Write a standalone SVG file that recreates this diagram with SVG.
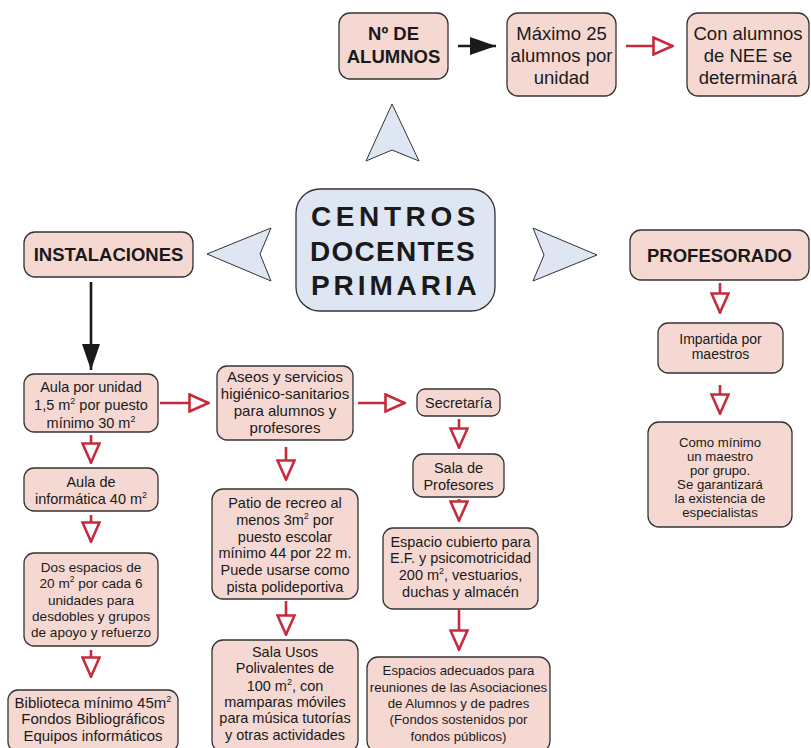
<svg xmlns="http://www.w3.org/2000/svg" width="811" height="748" viewBox="0 0 811 748">
<style>
  .node rect { fill: #f5d8d2; stroke: #333; stroke-width: 1.3; }
  .center rect { fill: #dfe6f3; stroke: #333; stroke-width: 1.3; }
  text { font-family: "Liberation Sans", Arial, sans-serif; fill: #1a1a1a; text-anchor: middle; }
  .h { font-size: 18.5px; font-weight: bold; }
  .big { font-size: 28px; font-weight: bold; text-anchor: start; }
  .t18 { font-size: 18.5px; }
  .t15 { font-size: 15px; }
  .t145 { font-size: 14.5px; }
  .t14 { font-size: 14px; }
  .t135 { font-size: 13.6px; }
  .t13 { font-size: 13.2px; }
  .sup { font-size: 0.62em; }
  .red { stroke: #c72b3b; stroke-width: 2.6; fill: none; marker-end: url(#hollow); }
  .blk { stroke: #1a1a1a; stroke-width: 2.6; fill: none; marker-end: url(#solid); }
  .star { fill: #dfe6f3; stroke: #333; stroke-width: 1; }
</style>
<defs>
  <marker id="hollow" markerUnits="userSpaceOnUse" viewBox="0 0 22 20" refX="21" refY="10" markerWidth="22" markerHeight="20" orient="auto">
    <path d="M1.5,1.5 L20.5,10 L1.5,18.5 Z" fill="#fff" stroke="#c72b3b" stroke-width="2.6" stroke-linejoin="miter"/>
  </marker>
  <marker id="solid" markerUnits="userSpaceOnUse" viewBox="0 0 26 20" refX="26" refY="10" markerWidth="26" markerHeight="20" orient="auto">
    <path d="M0,1 L26,10 L0,19 Z" fill="#1a1a1a"/>
  </marker>
</defs>
<rect width="811" height="748" fill="#fff"/>

<g id="connectors">
  <polygon class="star" points="392,104 419,161 392,150 366,161"/>
  <polygon class="star" points="207,254 271,228 260,254 271,281"/>
  <polygon class="star" points="597,255 533,228 544,255 533,281"/>
  <line class="blk" x1="458" y1="46" x2="496" y2="46"/>
  <line class="red" x1="626" y1="46" x2="673" y2="46"/>
  <line class="blk" x1="91" y1="282" x2="91" y2="370"/>
  <line class="red" x1="160" y1="403" x2="209" y2="403"/>
  <line class="red" x1="358" y1="403" x2="405" y2="403"/>
  <line class="red" x1="91" y1="435" x2="91" y2="463"/>
  <line class="red" x1="91" y1="515" x2="91" y2="542"/>
  <line class="red" x1="91" y1="650" x2="91" y2="677"/>
  <line class="red" x1="286" y1="447" x2="286" y2="480"/>
  <line class="red" x1="286" y1="601" x2="286" y2="635"/>
  <line class="red" x1="459" y1="419" x2="459" y2="448"/>
  <line class="red" x1="459" y1="499" x2="459" y2="521"/>
  <line class="red" x1="459" y1="610" x2="459" y2="650"/>
  <line class="red" x1="720" y1="283" x2="720" y2="313"/>
  <line class="red" x1="720" y1="385" x2="720" y2="414"/>
</g>

<g id="n-alumnos" class="node">
  <rect x="339" y="13" width="109" height="66" rx="11"/>
  <text class="h" x="393.5" y="40">Nº DE</text>
  <text class="h" x="393.5" y="63">ALUMNOS</text>
</g>
<g id="n-maximo" class="node">
  <rect x="507" y="13" width="109" height="83" rx="11"/>
  <text class="t18" x="561.5" y="40">Máximo 25</text>
  <text class="t18" x="561.5" y="62">alumnos por</text>
  <text class="t18" x="561.5" y="84">unidad</text>
</g>
<g id="n-nee" class="node">
  <rect x="687" y="13" width="122" height="83" rx="11"/>
  <text class="t18" x="748" y="40">Con alumnos</text>
  <text class="t18" x="748" y="62">de NEE se</text>
  <text class="t18" x="748" y="84">determinará</text>
</g>

<g id="n-centro" class="center">
  <rect x="296" y="189" width="199" height="122" rx="24"/>
  <text class="big" x="311" y="226" letter-spacing="4.6">CENTROS</text>
  <text class="big" x="310" y="261" letter-spacing="1.3">DOCENTES</text>
  <text class="big" x="311" y="295" letter-spacing="3.9">PRIMARIA</text>
</g>

<g id="n-instalaciones" class="node">
  <rect x="24" y="232" width="169" height="45" rx="11"/>
  <text class="h" x="108.5" y="261">INSTALACIONES</text>
</g>
<g id="n-profesorado" class="node">
  <rect x="630" y="230" width="179" height="50" rx="11"/>
  <text class="h" x="719.5" y="262">PROFESORADO</text>
</g>

<g id="n-aula" class="node">
  <rect x="24" y="374" width="134" height="58" rx="10"/>
  <text class="t145" x="91" y="392">Aula por unidad</text>
  <text class="t145" x="91" y="410">1,5 m<tspan class="sup" dy="-6">2</tspan><tspan dy="6"> por puesto</tspan></text>
  <text class="t145" x="91" y="428">mínimo 30 m<tspan class="sup" dy="-6">2</tspan></text>
</g>
<g id="n-informatica" class="node">
  <rect x="24" y="468" width="134" height="43" rx="10"/>
  <text class="t145" x="91" y="487">Aula de</text>
  <text class="t145" x="91" y="504">informática 40 m<tspan class="sup" dy="-6">2</tspan></text>
</g>
<g id="n-dos" class="node">
  <rect x="24" y="553" width="134" height="93" rx="10"/>
  <text class="t135" x="91" y="572">Dos espacios de</text>
  <text class="t135" x="91" y="588">20 m<tspan class="sup" dy="-6">2</tspan><tspan dy="6"> por cada 6</tspan></text>
  <text class="t135" x="91" y="605">unidades para</text>
  <text class="t135" x="91" y="621">desdobles y grupos</text>
  <text class="t135" x="91" y="637">de apoyo y refuerzo</text>
</g>
<g id="n-biblioteca" class="node">
  <rect x="8" y="690" width="170" height="62" rx="10"/>
  <text class="t15" x="93" y="708">Biblioteca mínimo 45m<tspan class="sup" dy="-6">2</tspan></text>
  <text class="t15" x="93" y="724">Fondos Bibliográficos</text>
  <text class="t15" x="93" y="741">Equipos informáticos</text>
</g>

<g id="n-aseos" class="node">
  <rect x="217" y="366" width="136" height="74" rx="10"/>
  <text class="t15" x="285" y="382">Aseos y servicios</text>
  <text class="t15" x="285" y="399">higiénico-sanitarios</text>
  <text class="t15" x="285" y="416">para alumnos y</text>
  <text class="t15" x="285" y="433">profesores</text>
</g>
<g id="n-patio" class="node">
  <rect x="212" y="489" width="146" height="110" rx="11"/>
  <text class="t145" x="285" y="508">Patio de recreo al</text>
  <text class="t145" x="285" y="525">menos 3m<tspan class="sup" dy="-6">2</tspan><tspan dy="6"> por</tspan></text>
  <text class="t145" x="285" y="542">puesto escolar</text>
  <text class="t145" x="285" y="558">mínimo 44 por 22 m.</text>
  <text class="t145" x="285" y="575">Puede usarse como</text>
  <text class="t145" x="285" y="592">pista polideportiva</text>
</g>
<g id="n-sala-usos" class="node">
  <rect x="212" y="640" width="146" height="112" rx="11"/>
  <text class="t145" x="285" y="657">Sala Usos</text>
  <text class="t145" x="285" y="673">Polivalentes de</text>
  <text class="t145" x="285" y="691">100 m<tspan class="sup" dy="-6">2</tspan><tspan dy="6">, con</tspan></text>
  <text class="t145" x="285" y="707">mamparas móviles</text>
  <text class="t145" x="285" y="723">para música tutorías</text>
  <text class="t145" x="285" y="740">y otras actividades</text>
</g>

<g id="n-secretaria" class="node">
  <rect x="417" y="389" width="83" height="27" rx="8"/>
  <text class="t145" x="458.5" y="408">Secretaría</text>
</g>
<g id="n-sala-prof" class="node">
  <rect x="413" y="454" width="91" height="43" rx="10"/>
  <text class="t145" x="458.5" y="473">Sala de</text>
  <text class="t145" x="458.5" y="490">Profesores</text>
</g>
<g id="n-espacio" class="node">
  <rect x="383" y="528" width="155" height="81" rx="10"/>
  <text class="t145" x="460.5" y="547">Espacio cubierto para</text>
  <text class="t145" x="460.5" y="563">E.F. y psicomotricidad</text>
  <text class="t145" x="460.5" y="580">200 m<tspan class="sup" dy="-6">2</tspan><tspan dy="6">, vestuarios,</tspan></text>
  <text class="t145" x="460.5" y="597">duchas y almacén</text>
</g>
<g id="n-espacios" class="node">
  <rect x="367" y="657" width="183" height="95" rx="11"/>
  <text class="t13" x="458.5" y="675">Espacios adecuados para</text>
  <text class="t13" x="458.5" y="692">reuniones de las Asociaciones</text>
  <text class="t13" x="458.5" y="708">de Alumnos y de padres</text>
  <text class="t13" x="458.5" y="724">(Fondos sostenidos por</text>
  <text class="t13" x="458.5" y="741">fondos públicos)</text>
</g>

<g id="n-impartida" class="node">
  <rect x="658" y="323" width="125" height="50" rx="10"/>
  <text class="t14" x="720.5" y="344">Impartida por</text>
  <text class="t14" x="720.5" y="359">maestros</text>
</g>
<g id="n-como" class="node">
  <rect x="648" y="422" width="144" height="105" rx="11"/>
  <text class="t13" x="720" y="447">Como mínimo</text>
  <text class="t13" x="720" y="461">un maestro</text>
  <text class="t13" x="720" y="475">por grupo.</text>
  <text class="t13" x="720" y="489">Se garantizará</text>
  <text class="t13" x="720" y="503">la existencia de</text>
  <text class="t13" x="720" y="517">especialistas</text>
</g>
</svg>
